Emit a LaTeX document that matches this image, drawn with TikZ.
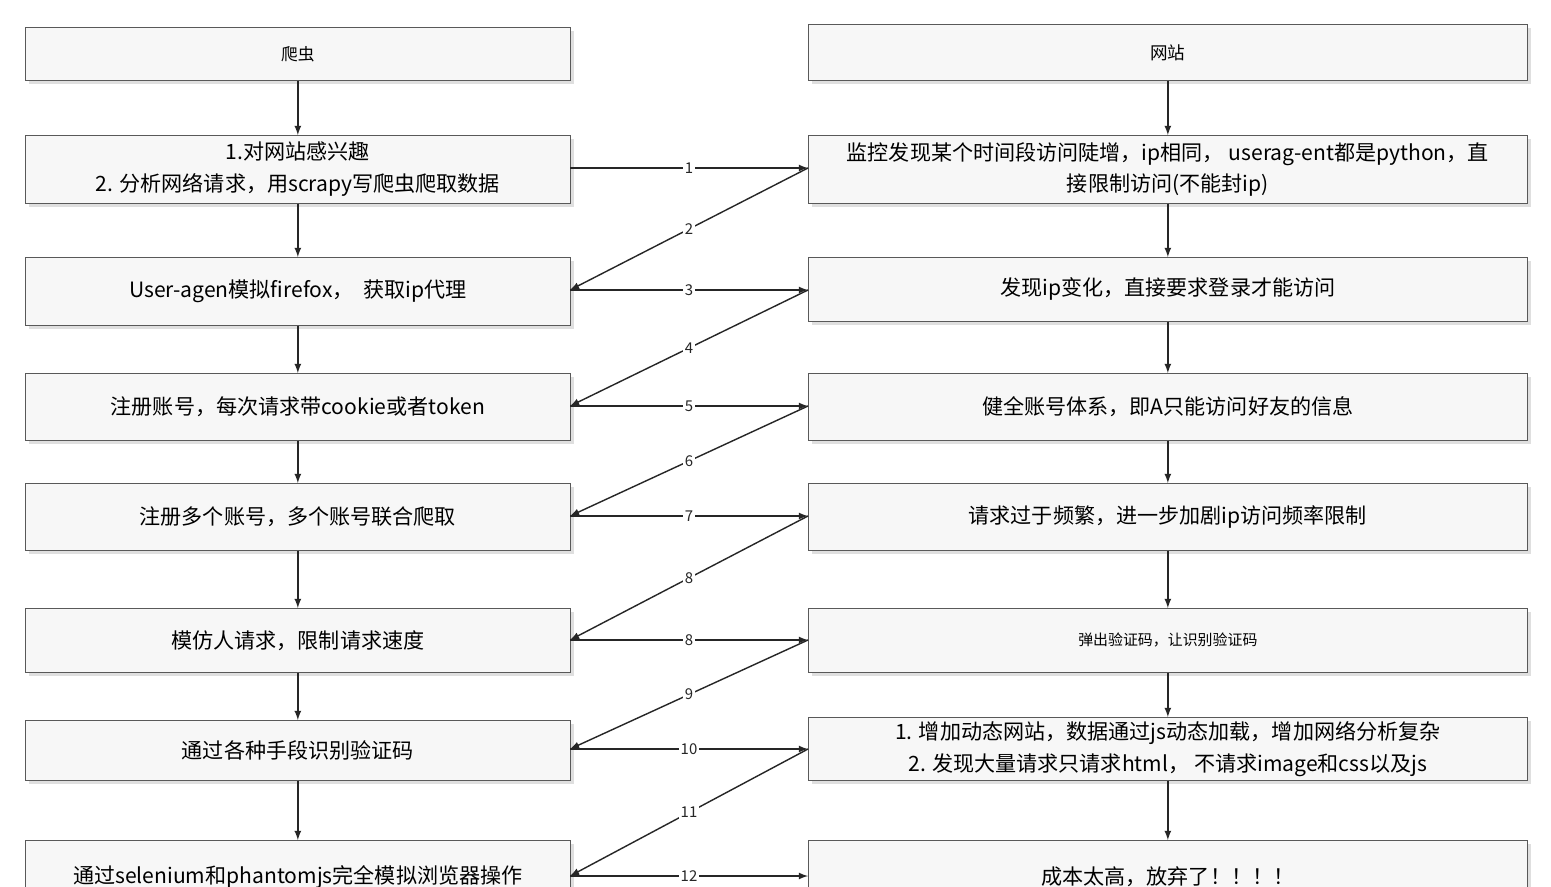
\documentclass[tikz,border=0pt]{standalone}
\usepackage{fontspec}
\setmainfont{Noto Sans CJK SC}
\usetikzlibrary{shadows}
\begin{document}
\begin{tikzpicture}[x=0.02cm,y=-0.02cm,
 box/.style={draw=gray!70!black,fill=gray!6,drop shadow={shadow xshift=2pt,shadow yshift=-2pt,opacity=0.25},inner sep=0pt,align=center,font=\fontsize{12}{18}\selectfont},
 arr/.style={-latex,thick,black!85},
 lab/.style={fill=white,inner sep=1pt,font=\fontsize{8.5}{9}\selectfont}]
\useasboundingbox (0,0) rectangle (1551,886);
\clip (0,0) rectangle (1551,886);
\fill[white] (0,0) rectangle (1551,886);
\def\bx#1#2#3#4#5{\node[box,minimum width=545*0.02cm,minimum height=#4*0.02cm,anchor=north west] (#1) at (#2,#3) {#5};}
\def\bxr#1#2#3#4#5{\node[box,minimum width=719*0.02cm,minimum height=#4*0.02cm,anchor=north west] (#1) at (#2,#3) {#5};}
\bx{L0}{25}{27}{53}{\fontsize{9.5}{11}\selectfont 爬虫}
\bx{L1}{25}{135}{68}{1.对网站感兴趣\\2. 分析网络请求，用scrapy写爬虫爬取数据}
\bx{L2}{25}{257}{68}{User-agen模拟firefox，\ \ 获取ip代理}
\bx{L3}{25}{373}{67}{注册账号，每次请求带cookie或者token}
\bx{L4}{25}{483}{67}{注册多个账号，多个账号联合爬取}
\bx{L5}{25}{608}{64}{模仿人请求，限制请求速度}
\bx{L6}{25}{720}{60}{通过各种手段识别验证码}
\bx{L7}{25}{840}{70}{\raisebox{-12pt}{通过selenium和phantomjs完全模拟浏览器操作}}
\bxr{R0}{808}{24}{56}{\fontsize{10}{11}\selectfont 网站}
\bxr{R1}{808}{135}{68}{监控发现某个时间段访问陡增，ip相同，\ userag-ent都是python，直\\接限制访问(不能封ip)}
\bxr{R2}{808}{257}{64}{发现ip变化，直接要求登录才能访问}
\bxr{R3}{808}{373}{67}{健全账号体系，即A只能访问好友的信息}
\bxr{R4}{808}{483}{67}{请求过于频繁，进一步加剧ip访问频率限制}
\bxr{R5}{808}{608}{64}{\fontsize{8.5}{10}\selectfont 弹出验证码，让识别验证码}
\bxr{R6}{808}{717}{63}{1. 增加动态网站，数据通过js动态加载，增加网络分析复杂\\2. 发现大量请求只请求html，\ 不请求image和css以及js}
\bxr{R7}{808}{840}{70}{\raisebox{-12pt}{成本太高，放弃了！！！！}}
\foreach \a/\b in {L0/L1,L1/L2,L2/L3,L3/L4,L4/L5,L5/L6,L6/L7,R0/R1,R1/R2,R2/R3,R3/R4,R4/R5,R5/R6,R6/R7}
  \draw[arr] (\a.south) -- (\b.north);
\coordinate (l1) at (570,168); \coordinate (r1) at (808,168);
\coordinate (l2) at (570,290); \coordinate (r2) at (808,290);
\coordinate (l3) at (570,406); \coordinate (r3) at (808,406);
\coordinate (l4) at (570,516); \coordinate (r4) at (808,516);
\coordinate (l5) at (570,640); \coordinate (r5) at (808,640);
\coordinate (l6) at (570,749); \coordinate (r6) at (808,749);
\coordinate (l7) at (570,876); \coordinate (r7) at (808,876);
\draw[arr] (l1) -- node[lab]{1} (r1);
\draw[arr] (r1) -- node[lab]{2} (l2);
\draw[arr] (l2) -- node[lab]{3} (r2);
\draw[arr] (r2) -- node[lab]{4} (l3);
\draw[arr] (l3) -- node[lab]{5} (r3);
\draw[arr] (r3) -- node[lab]{6} (l4);
\draw[arr] (l4) -- node[lab]{7} (r4);
\draw[arr] (r4) -- node[lab]{8} (l5);
\draw[arr] (l5) -- node[lab]{8} (r5);
\draw[arr] (r5) -- node[lab]{9} (l6);
\draw[arr] (l6) -- node[lab]{10} (r6);
\draw[arr] (r6) -- node[lab]{11} (l7);
\draw[arr] (l7) -- node[lab]{12} (r7);
\end{tikzpicture}
\end{document}
